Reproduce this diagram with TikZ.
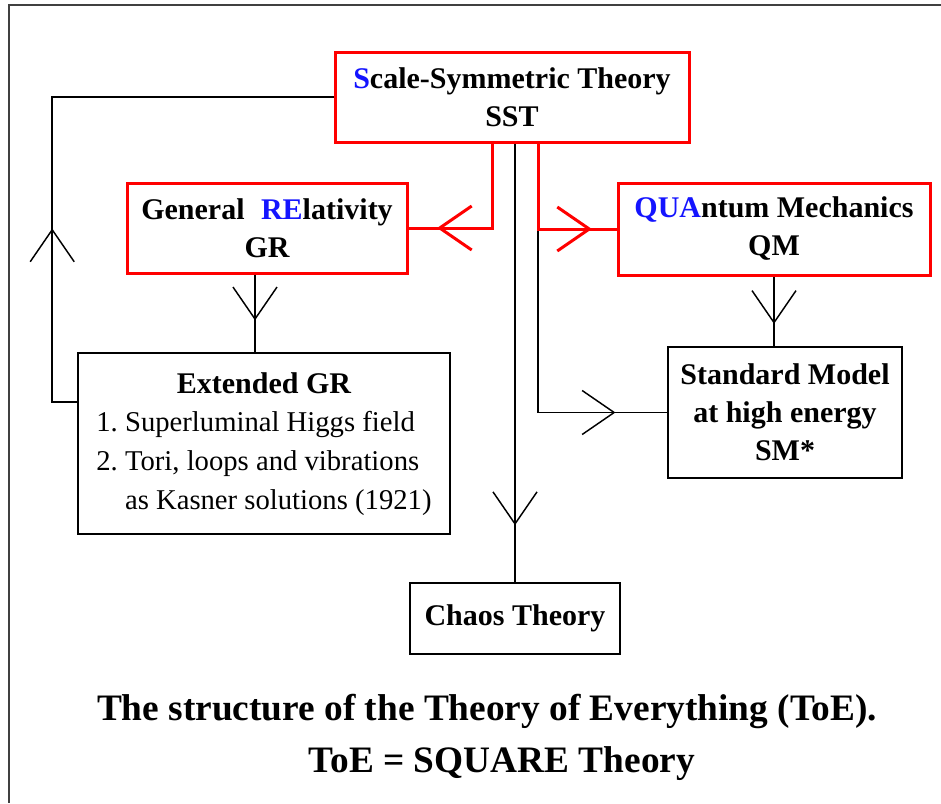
\documentclass[tikz,border=0pt]{standalone}
\usepackage{fontspec}
\setmainfont{Liberation Serif}
\usepackage{tikz}
\usetikzlibrary{arrows.meta,positioning,calc,decorations.markings}
\usepackage{xcolor}
\definecolor{frameGray}{RGB}{64,64,64}
\definecolor{hiBlue}{RGB}{20,20,255}

\begin{document}
\begin{tikzpicture}[
  x=0.75pt, y=-0.75pt,
  font=\fontsize{22.5}{28.5}\selectfont\bfseries,
  barb/.tip={Straight Barb[length=24pt,width=33pt]},
  redbox/.style={draw=red,line width=2.25pt,align=center,inner sep=0pt},
  blackbox/.style={draw=black,line width=1.2pt,align=center,inner sep=0pt},
  midtip/.style={postaction={decorate},
    decoration={markings,mark=at position #1 with {\arrow{barb}}}},
  redarr/.style={draw=red,line width=2.25pt},
  blackarr/.style={draw=black,line width=1.1pt},
]
\useasboundingbox (0,0) rectangle (941,803);
\draw[frameGray,line width=2pt] (941,5) -| (9,803);

% boxes
\node[redbox,minimum width=265.5pt,minimum height=67.5pt] (sst) at (512,97)
  {\textcolor{hiBlue}{S}cale-Symmetric Theory\\SST};
\node[redbox,minimum width=210pt,minimum height=67.5pt] (gr) at (267,228)
  {General\hspace{0.3em} \textcolor{hiBlue}{RE}lativity\\GR};
\node[redbox,minimum width=234pt,minimum height=69pt] (qm) at (774,229)
  {\textcolor{hiBlue}{QUA}ntum Mechanics\\QM};
\node[blackbox,minimum width=279pt,minimum height=135.75pt] (egr) at (264,443.5)
  {\fontsize{21.5}{29}\selectfont\mdseries
   \begin{tabular}{@{}r@{\ }l@{}}
   \multicolumn{2}{c}{\bfseries\fontsize{22.5}{29}\selectfont Extended GR}\\
   1. & Superluminal Higgs field\\
   2. & Tori, loops and vibrations\\
      & as Kasner solutions (1921)
   \end{tabular}};
\node[blackbox,minimum width=175.5pt,minimum height=98.25pt] (sm) at (785,412.5)
  {Standard Model\\at high energy\\SM*};
\node[blackbox,minimum width=157.5pt,minimum height=53.25pt] (chaos) at (515,618.5)
  {Chaos Theory};

% connectors
\draw[blackarr,midtip=0.87] ([xshift=19.5pt]sst.south) |- (sm.west);
\draw[redarr,midtip=0.83] ([xshift=-15pt]sst.south) |- (gr.east);
\draw[redarr,midtip=0.85] ([xshift=19.5pt]sst.south) |- (qm.west);
\draw[blackarr,midtip=0.87] (sst.south -| chaos.north) -- (chaos.north);
\draw[blackarr,midtip=0.59] ([xshift=-9pt]gr.south) -- ([xshift=-9pt]gr.south |- egr.north);
\draw[blackarr,midtip=0.68] (qm.south) -- (qm.south |- sm.north);
\draw[blackarr,midtip=0.325] ([yshift=31pt]egr.west) -- ++(-25,0) |- (sst.west);

% caption
\node[anchor=base,font=\fontsize{28}{34}\selectfont\bfseries] (cap1) at (487,720)
  {The structure of the Theory of Everything (ToE).};
\node[anchor=base,font=\fontsize{28}{34}\selectfont\bfseries] (cap2) at (502,772)
  {ToE = SQUARE Theory};
\end{tikzpicture}
\end{document}
